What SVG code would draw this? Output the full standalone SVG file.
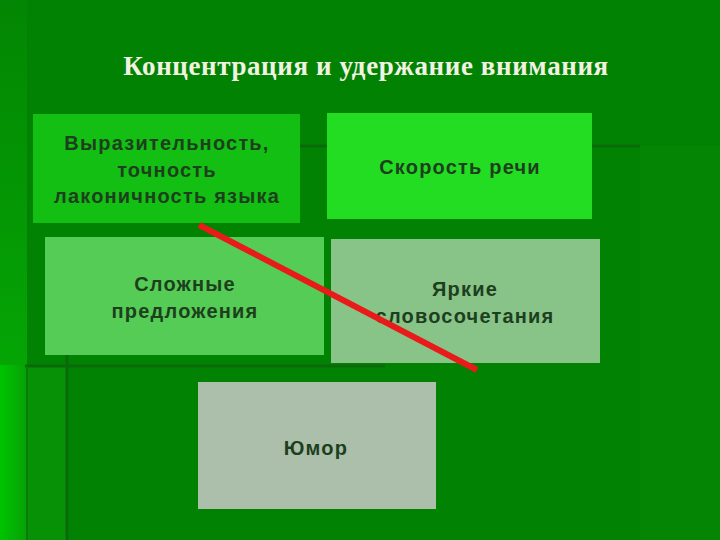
<svg xmlns="http://www.w3.org/2000/svg" width="720" height="540" viewBox="0 0 720 540">
<defs>
<linearGradient id="lg" x1="0" y1="0" x2="1" y2="0"><stop offset="0" stop-color="#00c400"/><stop offset="1" stop-color="#07a007"/></linearGradient>
<linearGradient id="lv" x1="0" y1="0" x2="0" y2="1"><stop offset="0" stop-color="#038603"/><stop offset="1" stop-color="#05a505"/></linearGradient>
<style>
.t{font-family:"Liberation Sans",Arial,sans-serif;font-size:20px;font-weight:bold;fill:#1e3f1e;text-anchor:middle;letter-spacing:1.2px}
.bl{stroke:#0a6a0a;stroke-width:3}
</style>
</defs>
<rect width="720" height="540" fill="#028202"/>
<rect x="640" y="146" width="80" height="394" fill="#048604"/>
<rect x="0" y="0" width="27" height="365" fill="url(#lv)"/>
<rect x="0" y="365" width="27" height="175" fill="url(#lg)"/>
<rect x="27" y="365" width="40" height="175" fill="#079107"/>
<g id="bglines">
<line class="bl" x1="300" y1="146" x2="640" y2="146"/>
<line class="bl" x1="25" y1="366" x2="385" y2="366"/>
<line class="bl" x1="67" y1="270" x2="67" y2="540"/>
<line x1="27" y1="366" x2="27" y2="540" stroke="#0a7a0a" stroke-width="2"/>
</g>
<text x="366" y="75" font-family="'Liberation Serif',serif" font-weight="bold" font-size="27" fill="#f2f2e2" text-anchor="middle" letter-spacing="0.6">Концентрация и удержание внимания</text>
<g id="n1"><rect x="33" y="114" width="267" height="109" fill="#12bf12"/>
<text class="t" x="167" y="150">Выразительность,</text><text class="t" x="167" y="177">точность</text><text class="t" x="167" y="203">лаконичность языка</text></g>
<g id="n2"><rect x="327" y="113" width="265" height="106" fill="#22dd22"/>
<text class="t" x="460" y="174">Скорость речи</text></g>
<g id="n3"><rect x="45" y="237" width="279" height="118" fill="#55cc55"/>
<text class="t" x="185" y="291">Сложные</text><text class="t" x="185" y="318">предложения</text></g>
<g id="n4"><rect x="331" y="239" width="269" height="124" fill="#88c488"/>
<text class="t" x="465" y="296">Яркие</text><text class="t" x="465" y="323">словосочетания</text></g>
<g id="n5"><rect x="198" y="382" width="238" height="127" fill="#abbfab"/>
<text class="t" x="316" y="455">Юмор</text></g>
<g id="connectors"><line x1="199" y1="225" x2="477" y2="370" stroke="#e81a1a" stroke-width="6"/></g>
</svg>
